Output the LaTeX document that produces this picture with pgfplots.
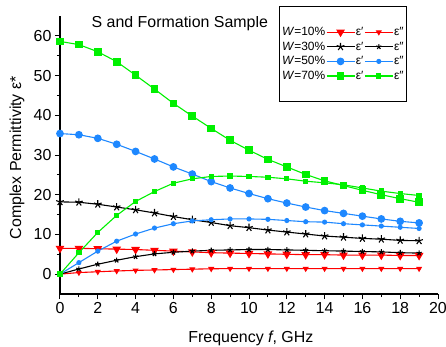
\documentclass[border=0pt]{standalone}
\usepackage{fontspec}
\setmainfont{Liberation Sans}
\usepackage{pgfplots}
\pgfplotsset{compat=1.18}
\usepackage{pgfplotstable}
\definecolor{cred}{RGB}{255,0,0}
\definecolor{cblue}{RGB}{30,136,255}
\definecolor{cgreen}{RGB}{0,240,0}
\pgfplotstableread{
x  rA   rB   kA   kB   bA   bB   gA   gB
0  6.5  0.0  18.2 0.0  35.4 0.0  58.6 0.0
1  6.5  0.4  18.1 1.3  35.1 2.9  57.8 5.4
2  6.4  0.6  17.6 2.5  34.2 5.8  56.0 10.5
3  6.3  0.8  16.9 3.5  32.7 8.3  53.5 14.8
4  6.2  0.95 16.2 4.4  30.9 10.1 50.1 18.3
5  6.0  1.05 15.4 5.1  29.0 11.6 46.6 20.8
6  5.8  1.15 14.5 5.5  27.0 12.7 43.0 22.9
7  5.6  1.25 13.7 5.8  25.2 13.4 39.8 24.0
8  5.4  1.35 13.0 6.0  23.3 13.7 36.7 24.6
9  5.3  1.4  12.2 6.1  21.7 13.9 33.7 24.7
10 5.2  1.4  11.7 6.2  20.3 13.9 31.2 24.6
11 5.1  1.4  11.1 6.2  19.0 13.8 28.9 24.4
12 5.0  1.4  10.6 6.1  17.9 13.5 27.0 24.0
13 4.9  1.4  10.1 6.0  16.9 13.2 25.1 23.4
14 4.9  1.4  9.6  5.9  16.0 13.1 23.5 23.0
15 4.8  1.4  9.3  5.8  15.3 12.7 22.3 22.5
16 4.8  1.4  9.0  5.7  14.6 12.4 21.1 21.7
17 4.8  1.4  8.8  5.6  13.9 12.1 20.0 20.9
18 4.7  1.4  8.5  5.4  13.3 11.8 19.0 20.3
19 4.7  1.4  8.4  5.3  12.9 11.5 18.1 19.8
}\data
\begin{document}
\begin{tikzpicture}
\begin{axis}[
  scale only axis, width=378bp, height=278bp,
  xmin=0, xmax=20, ymin=-5, ymax=65,
  axis x line*=bottom, axis y line*=left,
  axis line style={line width=1.1bp, black},
  xtick={0,2,...,20}, ytick={0,10,...,60},
  minor x tick num=1, minor y tick num=1,
  tick align=outside,
  major tick length=5bp, minor tick length=3bp,
  every tick/.style={black, line width=1bp},
  /pgf/number format/assume math mode=true,
  ticklabel style={font=\fontsize{16}{19}\selectfont},
  label style={font=\fontsize{16}{19}\selectfont},
  xlabel={Frequency \textit{f}, GHz},
  ylabel={Complex Permittivity ε*},
  xlabel style={at={(axis description cs:0.505,0)}, anchor=center, yshift=-44bp},
  ylabel style={at={(axis description cs:-0.1138,0.49)}, anchor=center},
  legend columns=3,
  legend style={at={(rel axis cs:0.579,1.036)}, anchor=north west,
    draw=black, line width=0.8bp, inner xsep=2bp, inner ysep=20bp,
    font=\fontsize{12}{14}\selectfont, column sep=0bp, row sep=3.2bp,
    nodes={inner sep=0.8bp}},
  legend cell align=left,
  legend image code/.code={\draw[mark repeat=2,mark phase=2,#1] plot coordinates {(0bp,0bp)(14bp,0bp)(28bp,0bp)};},
  every axis plot/.append style={line width=1.1bp},
]
\coordinate (O) at (rel axis cs:0,0);
\addlegendimage{empty legend}\addlegendentry{\textit{W}=10\%}
\addplot[cred, mark=triangle*, mark size=4bp, mark options={rotate=180, fill=cred}] table[x=x,y=rA]{\data};
\addlegendentry{ε′}
\addplot[cred, mark=triangle*, mark size=2.5bp, mark options={rotate=180, fill=cred}] table[x=x,y=rB]{\data};
\addlegendentry{ε″}
\addlegendimage{empty legend}\addlegendentry{\textit{W}=30\%}
\addplot[black, mark=star, mark size=4bp, mark options={fill=black}] table[x=x,y=kA]{\data};
\addlegendentry{ε′}
\addplot[black, mark=star, mark size=2.7bp, mark options={fill=black}] table[x=x,y=kB]{\data};
\addlegendentry{ε″}
\addlegendimage{empty legend}\addlegendentry{\textit{W}=50\%}
\addplot[cblue, mark=*, mark size=3.3bp, mark options={fill=cblue}] table[x=x,y=bA]{\data};
\addlegendentry{ε′}
\addplot[cblue, mark=*, mark size=2bp, mark options={fill=cblue}] table[x=x,y=bB]{\data};
\addlegendentry{ε″}
\addlegendimage{empty legend}\addlegendentry{\textit{W}=70\%}
\addplot[cgreen, mark=square*, mark size=3.3bp, mark options={fill=cgreen}] table[x=x,y=gA]{\data};
\addlegendentry{ε′}
\addplot[cgreen, mark=square*, mark size=2.1bp, mark options={fill=cgreen}] table[x=x,y=gB]{\data};
\addlegendentry{ε″}
\node[font=\fontsize{16}{19}\selectfont, anchor=center] at (rel axis cs:0.317,0.975) {S and Formation Sample};
\end{axis}
\pgfresetboundingbox
\path (O) ++(-60bp,-53bp) rectangle ++(446bp,347bp);
\end{tikzpicture}
\end{document}
